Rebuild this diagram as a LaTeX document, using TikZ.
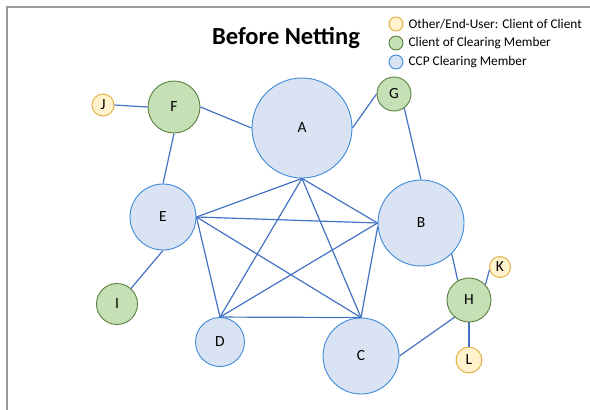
\documentclass[tikz,border=0pt]{standalone}
\usepackage{fontspec}
\setmainfont{Carlito}
\usepackage{xcolor}
\usetikzlibrary{positioning}

\definecolor{ccpfill}{HTML}{DAE3F3}
\definecolor{ccpline}{HTML}{3D8BD9}
\definecolor{cmfill}{HTML}{C5E0B4}
\definecolor{cmline}{HTML}{5A7F40}
\definecolor{endfill}{HTML}{FFF2CC}
\definecolor{endline}{HTML}{DEAE3A}
\definecolor{linkblue}{HTML}{4472C4}

\begin{document}
\begin{tikzpicture}[x=1pt, y=-1pt, font=\fontsize{15.5}{18}\selectfont,
  ccp/.style={circle, draw=ccpline, fill=ccpfill, line width=0.9pt, inner sep=0pt, minimum size=#1},
  client/.style={circle, draw=cmline, fill=cmfill, line width=0.9pt, inner sep=0pt, minimum size=#1},
  enduser/.style={circle, draw=endline, fill=endfill, line width=0.9pt, inner sep=0pt, minimum size=#1},
  link/.style={draw=linkblue, line width=1.2pt}]
  \useasboundingbox (0,0) rectangle (590,410);

  % Frame
  \draw[gray!80, line width=2pt] (7,410) -- (7,7) -- (590,7);

  % Title
  \node[font=\fontsize{24.5}{28}\selectfont\bfseries] (title) at (286,38) {Before Netting};

  % Legend
  \foreach \y/\sty/\lbl in {24/enduser/{Other/End-User: Client of Client},
                            43/client/{Client of Clearing Member},
                            62/ccp/{CCP Clearing Member}} {
    \node[\sty=14pt] (key\y) at (396,\y) {};
    \node[right=4pt of key\y, font=\fontsize{13.3}{15}\selectfont, inner sep=1pt] {\lbl};
  }

  % CCP clearing members
  \node[ccp=100pt] (A) at (302,128) {A};
  \node[ccp=86pt]  (B) at (421,223) {B};
  \node[ccp=76pt]  (C) at (361,356) {C};
  \node[ccp=49pt]  (D) at (220,342) {D};
  \node[ccp=66pt]  (E) at (163,217) {E};

  % Clients of clearing members
  \node[client=52pt] (F) at (174,107) {F};
  \node[client=34pt] (G) at (394,94)  {G};
  \node[client=44pt] (H) at (469,300) {H};
  \node[client=41pt] (I) at (117,304) {I};

  % End users
  \node[enduser=22pt] (J) at (103,105) {J};
  \node[enduser=21pt] (K) at (500,267) {K};
  \node[enduser=26pt] (L) at (469,360) {L};

  % Links between members
  \draw[link] (A.south) -- (E.east);
  \draw[link] (A.south) -- (D.north);
  \draw[link] (A.south) -- (C.north);
  \draw[link] (A.south) -- (B.west);
  \draw[link] (E.east) -- (B.west);
  \draw[link] (E.east) -- (D.north);
  \draw[link] (E.east) -- (C.north);
  \draw[link] (B.west) -- (D.north);
  \draw[link] (B.185) -- (C.north);
  \draw[link] (D.north) -- (C.north);

  % Links to clients
  \draw[link] (J.east) -- (F.west);
  \draw[link] (F.east) -- (A.west);
  \draw[link] (F.south) -- (E.north);
  \draw[link] (A.east) -- (G.west);
  \draw[link] (G.-54) -- (B.north);
  \draw[link] (E.south) -- (I.48);
  \draw[link] (B.-45) -- (H.120);
  \draw[link] (H.43) -- (K.195);
  \draw[link] (H.south) -- (L.north);
  \draw[link] (H.230) -- (C.east);
\end{tikzpicture}
\end{document}
